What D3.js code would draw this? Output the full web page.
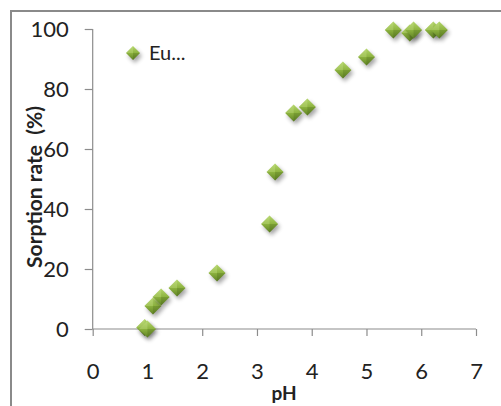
<!DOCTYPE html>
<html>
<head>
<meta charset="utf-8">
<script src="https://cdn.jsdelivr.net/npm/d3@7"></script>
<style>
  html, body { margin: 0; padding: 0; background: #fff; }
  svg text { font-family: Lato, "Open Sans", sans-serif; fill: #222; }
</style>
</head>
<body>
<svg id="chart" width="501" height="406"></svg>
<script>
// sorption data
const pH = [0.95, 1.0, 1.1, 1.25, 1.54, 2.27, 3.23, 3.33, 3.67, 3.92, 4.57, 5.0, 5.49, 5.79, 5.86, 6.22, 6.33];
const sorption = [0.5, 0, 7.7, 10.7, 13.7, 18.7, 35, 52.3, 72, 74, 86.3, 90.7, 99.7, 98.7, 99.7, 99.7, 99.7];
const xTicks = [0, 1, 2, 3, 4, 5, 6, 7];
const yTicks = [0, 20, 40, 60, 80, 100];
const seriesName = 'Eu...';

const svg = d3.select('svg#chart');

const x = d3.scaleLinear().domain([0, 7]).range([92.7, 476]);
const y = d3.scaleLinear().domain([0, 100]).range([329, 29]);

// outer frame (cut off at right and bottom)
svg.append('path')
  .attr('d', 'M11,406 V11 H501')
  .attr('fill', 'none')
  .attr('stroke', '#8a8a8a')
  .attr('stroke-width', 2);

const defs = svg.append('defs');
const grad = defs.append('linearGradient')
  .attr('id', 'gem').attr('x1', 0).attr('y1', 0).attr('x2', 0).attr('y2', 1);
grad.append('stop').attr('offset', '0%').attr('stop-color', '#b4d66c');
grad.append('stop').attr('offset', '50%').attr('stop-color', '#8db33f');
grad.append('stop').attr('offset', '100%').attr('stop-color', '#5f8224');
defs.append('filter').attr('id', 'blur')
  .attr('x', '-50%').attr('y', '-50%').attr('width', '200%').attr('height', '200%')
  .append('feGaussianBlur').attr('stdDeviation', 2);

// axes
const xAxis = d3.axisBottom(x).tickValues(xTicks).tickFormat(d3.format('d')).tickSize(7).tickPadding(27);
const yAxis = d3.axisLeft(y).tickValues(yTicks).tickFormat(d3.format('d')).tickSize(8).tickPadding(16);

const gx = svg.append('g').attr('transform', `translate(0,${y(0)})`).call(xAxis);
const gy = svg.append('g').attr('transform', `translate(${x(0)},0)`).call(yAxis);

[gx, gy].forEach(g => {
  g.select('.domain').attr('stroke', '#8c8c8c').attr('stroke-width', 1.2);
  g.selectAll('.tick line').attr('stroke', '#8c8c8c').attr('stroke-width', 1.2);
  g.selectAll('.tick text')
    .style('font-size', '22px')
    .style('font-family', 'Lato, sans-serif')
    .attr('fill', '#1e1e1e');
});
gx.select('.domain').attr('d', `M${x(0)},0H${x(7)}`);
gy.select('.domain').attr('d', `M0,${y(0)}V${y(100)}`);

// axis titles
svg.append('text')
  .attr('transform', `translate(42,187) rotate(-90)`)
  .attr('text-anchor', 'middle')
  .style('font-size', '21px')
  .style('font-weight', 'bold')
  .text('Sorption rate  (%)')
  .style('white-space', 'pre');

svg.append('text')
  .attr('x', 284)
  .attr('y', 400)
  .attr('text-anchor', 'middle')
  .style('font-size', '19px')
  .style('font-weight', 'bold')
  .text('pH');

// diamond marker
function diamond(g, r) {
  g.append('path')
    .attr('d', `M0,${-r}L${r},0L0,${r}L${-r},0Z`)
    .attr('transform', 'translate(2,3)')
    .attr('fill', '#000')
    .attr('opacity', 0.35)
    .attr('filter', 'url(#blur)');
  g.append('path')
    .attr('d', `M0,${-r}L${r},0L0,${r}L${-r},0Z`)
    .attr('fill', 'url(#gem)');
  g.append('path')
    .attr('d', `M0,${-r}L${-r},0L0,0Z`)
    .attr('fill', '#c8e38a').attr('opacity', 0.35);
  g.append('path')
    .attr('d', `M0,${r}L${r},0L0,0Z`)
    .attr('fill', '#3e5a12').attr('opacity', 0.25);
}

const pts = pH.map((v, i) => ({ px: v, s: sorption[i] }));

svg.append('g').selectAll('g')
  .data(pts)
  .enter().append('g')
  .attr('transform', d => `translate(${x(d.px)},${y(d.s)})`)
  .each(function () { diamond(d3.select(this), 8.5); });

// legend
const lg = svg.append('g').attr('transform', 'translate(133,53)');
diamond(lg, 7);
lg.append('text')
  .attr('x', 16)
  .attr('y', 7)
  .style('font-size', '20px')
  .text(seriesName);
</script>
</body>
</html>
